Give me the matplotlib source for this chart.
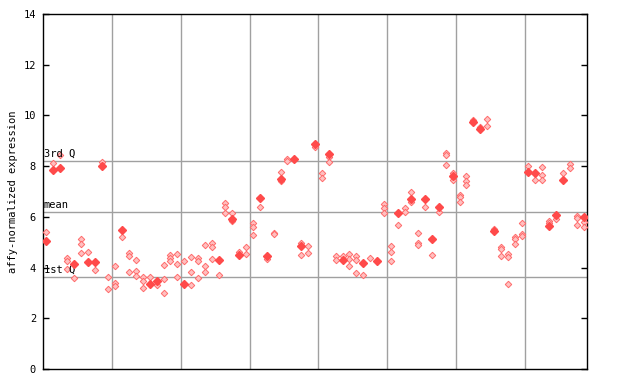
import matplotlib
matplotlib.use('Agg')
import matplotlib.pyplot as plt

# sample positions with a solid (highlighted) point, and its value
solid_pos = [0, 1, 2, 4, 6, 7, 8, 11, 15, 16,
             20, 25, 27, 28, 31, 32, 34, 36, 37, 39,
             41, 43, 46, 48, 51, 53, 55, 56, 57, 59,
             62, 63, 65, 70, 71, 73, 74, 75, 78]
solid_val = [5.06, 7.85, 7.94, 4.14, 4.23, 4.23, 8.00, 5.48, 3.36, 3.48,
             3.35, 4.30, 5.93, 4.51, 6.73, 4.46, 7.50, 8.27, 4.86, 8.86,
             8.46, 4.30, 4.19, 4.27, 6.16, 6.69, 6.69, 5.11, 6.40, 7.61,
             9.74, 9.46, 5.44, 7.78, 7.74, 5.64, 6.09, 7.45, 6.01]

# other replicates, one list per sample position (79 positions)
hatched = [
    [5.39], [8.11], [8.44], [4.36, 4.26, 3.93], [3.60],
    [5.11, 4.93, 4.56], [4.60], [3.89], [8.17], [3.62, 3.14],
    [4.06, 3.38, 3.27], [5.19], [4.56, 4.46, 3.81], [4.29, 3.86, 3.67], [3.62, 3.46, 3.18],
    [3.62], [3.30], [4.09, 3.54, 2.98], [4.50, 4.36, 4.26], [4.53, 4.13, 3.62],
    [4.27], [4.40, 3.81, 3.30], [4.36, 4.27, 3.58], [4.88, 4.06, 3.81], [4.96, 4.80, 4.32],
    [3.71], [6.56, 6.38, 6.14], [6.14, 5.85], [4.63], [4.80, 4.52],
    [5.74, 5.59, 5.27], [6.40], [4.33], [5.38, 5.32], [7.77, 7.40],
    [8.27, 8.19], [], [4.96, 4.48], [4.85, 4.56], [8.74],
    [7.72, 7.52], [8.38, 8.16], [4.47, 4.30], [4.47], [4.53, 4.34, 4.06],
    [4.46, 4.30, 3.77], [3.69], [4.36], [], [6.49, 6.34, 6.16],
    [4.85, 4.61, 4.25], [5.67], [6.34, 6.20], [6.98, 6.60], [5.35, 4.98, 4.88],
    [6.40], [4.48], [6.20], [8.53, 8.45, 8.03], [7.72, 7.45],
    [6.87, 6.77, 6.57], [7.61, 7.40, 7.24], [9.82], [9.55], [9.85, 9.58],
    [5.51], [4.82, 4.74, 4.44], [4.55, 4.40, 3.34], [5.19, 5.11, 4.92], [5.74, 5.31, 5.26],
    [8.00], [7.45], [7.95, 7.64, 7.45], [5.85, 5.77], [5.91],
    [7.72], [8.08, 7.91], [6.03, 5.95, 5.69], [5.80, 5.59],
]

q3 = 8.21
mean = 6.20
q1 = 3.62

mono = 'DejaVu Sans Mono'

fig = plt.figure(figsize=(6.4, 3.84), dpi=100)
ax = fig.add_axes([43 / 640, 15 / 384, 544 / 640, 355 / 384])

n = len(hatched)
hx = []
hy = []
for i, vals in enumerate(hatched):
    for v in vals:
        hx.append(i + 0.5)
        hy.append(v)

# group separators
for g in range(10, n, 10):
    ax.axvline(g, color='#a0a0a0', lw=1, zorder=1)

for v in [q3, mean, q1]:
    ax.axhline(v, color='#a0a0a0', lw=1, zorder=1)

ax.plot(hx, hy, 'D', ms=3.3, mfc='#ffc0c0', mec='#ff6a6a', mew=0.7, zorder=3)
ax.plot([p + 0.5 for p in solid_pos], solid_val, 'D', ms=4.0, color='#ff4a4a',
        mec='#ff4a4a', zorder=4)

ax.text(0.1, q3 + 0.08, '3rd Q', fontsize=7.5, family=mono, va='bottom', ha='left')
ax.text(0.1, mean + 0.08, 'mean', fontsize=7.5, family=mono, va='bottom', ha='left')
ax.text(0.1, q1 + 0.08, '1st Q', fontsize=7.5, family=mono, va='bottom', ha='left')

ax.set_xlim(0, n)
ax.set_ylim(0, 14)
ax.set_yticks(range(0, 15, 2))
ax.set_xticks([])
ax.tick_params(axis='y', direction='in', length=4, width=1, pad=5,
               labelsize=7.5, right=True)
for lab in ax.get_yticklabels():
    lab.set_family(mono)
for s in ax.spines.values():
    s.set_linewidth(1)
    s.set_color('black')

ax.set_ylabel('affy-normalized expression', fontsize=7.5, family=mono, labelpad=4)

fig.savefig('out.png', dpi=100)
